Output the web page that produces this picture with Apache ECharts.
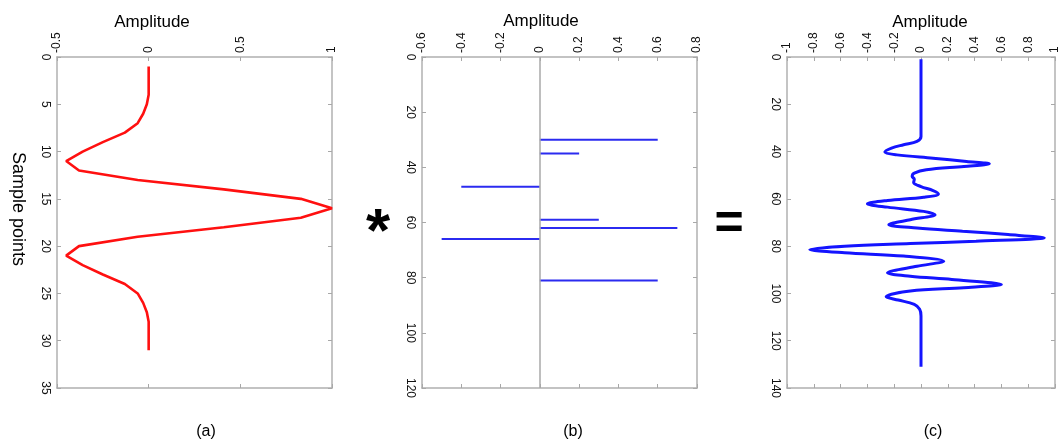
<!DOCTYPE html>
<html>
<head>
<meta charset="utf-8">
<script src="https://cdn.jsdelivr.net/npm/echarts@6/dist/echarts.min.js"></script>
<style>
  html, body { margin: 0; padding: 0; background: #fff; }
  #chart { width: 1061px; height: 445px; }
</style>
</head>
<body>
<div id="chart"></div>
<script>
// (a) wavelet
var waveSamples = [1,2,3,4,5,6,7,8,9,10,11,12,13,14,15,16,17,18,19,20,21,22,23,24,25,26,27,28,29,30,31];
var waveAmps = [0,0,0,0,-0.01,-0.03,-0.06,-0.13,-0.25,-0.36,-0.45,-0.38,-0.06,0.41,0.83,1.0,0.83,0.41,-0.06,-0.38,-0.45,-0.36,-0.25,-0.13,-0.06,-0.03,-0.01,0,0,0,0];

// (b) reflectivity spikes
var spikeSamples = [30, 35, 47, 59, 62, 66, 81];
var spikeAmps = [0.6, 0.2, -0.4, 0.3, 0.7, -0.5, 0.6];

// (c) synthetic trace
var traceSamples = [1, 20, 33.6, 35.7, 37.1, 38.5, 40.2, 41.4, 42.8, 44.2, 45.2, 46.3, 47.7, 49.1, 50.5, 51.7, 53.1, 54.8, 56.5, 57.9, 59.3, 60.7, 62.1, 63.5, 65.3, 66.7, 68.8, 70.9, 72.3, 73.7, 75.1, 76.5, 77.9, 78.9, 80.0, 81.4, 82.8, 84.2, 86.4, 88.5, 91.3, 92.7, 94.1, 96.2, 97.6, 99.0, 101.4, 102.8, 104.6, 106.7, 109.5, 120, 131];
var traceAmps = [0, 0, 0, -0.03, -0.13, -0.22, -0.27, -0.18, 0.09, 0.34, 0.51, 0.32, 0.04, -0.05, -0.066, -0.05, -0.055, 0, 0.09, 0.13, 0.02, -0.25, -0.40, -0.25, 0.02, 0.105, -0.08, -0.24, -0.03, 0.31, 0.65, 0.92, 0.41, -0.08, -0.57, -0.83, -0.57, -0.13, 0.17, -0.03, -0.25, -0.08, 0.23, 0.60, 0.32, -0.08, -0.26, -0.17, -0.05, -0.01, 0, 0, 0];

var ampRanges = [[-0.5, 1, 0.5], [-0.6, 0.8, 0.2], [-1, 1, 0.2]];
var sampleRanges = [[0, 35, 5], [0, 120, 20], [0, 140, 20]];
var panelLabels = ['(a)', '(b)', '(c)'];

function pairs(xs, ys) {
  return xs.map(function (s, i) { return [ys[i], s]; });
}

var boxLine = { color: '#b0b0b0', width: 1.5 };
var tickLine = { color: '#a8a8a8', width: 1 };
var labelFont = { color: '#111', fontFamily: 'Liberation Sans, Arial', fontSize: 12 };

var grids = [
  { left: 57, top: 57, width: 275, height: 331 },
  { left: 422, top: 57, width: 275, height: 331 },
  { left: 787, top: 57, width: 274, height: 331 }
];

var xAxes = [], yAxes = [];
grids.forEach(function (g, i) {
  [true, false].forEach(function (main) {
    xAxes.push({
      type: 'value', gridIndex: i, position: main ? 'top' : 'bottom',
      min: ampRanges[i][0], max: ampRanges[i][1], interval: ampRanges[i][2],
      axisLine: { show: true, onZero: false, lineStyle: boxLine },
      axisTick: { show: true, inside: true, length: 4, lineStyle: tickLine },
      axisLabel: Object.assign({ show: main, rotate: -90, margin: 4, showMinLabel: true, showMaxLabel: true }, labelFont),
      splitLine: { show: false }
    });
    yAxes.push({
      type: 'value', gridIndex: i, position: main ? 'left' : 'right', inverse: true,
      min: sampleRanges[i][0], max: sampleRanges[i][1], interval: sampleRanges[i][2],
      axisLine: { show: true, onZero: false, lineStyle: boxLine },
      axisTick: { show: true, inside: true, length: 4, lineStyle: tickLine },
      axisLabel: Object.assign({ show: main, rotate: -90, margin: 6, showMinLabel: true, showMaxLabel: true }, labelFont),
      splitLine: { show: false }
    });
  });
});

var textFont = 'Liberation Sans, Arial';
var graphics = [
  { type: 'text', x: 152, y: 22, style: { text: 'Amplitude', font: '17px ' + textFont, fill: '#000', align: 'center', verticalAlign: 'middle' } },
  { type: 'text', x: 541, y: 21, style: { text: 'Amplitude', font: '17px ' + textFont, fill: '#000', align: 'center', verticalAlign: 'middle' } },
  { type: 'text', x: 930, y: 22, style: { text: 'Amplitude', font: '17px ' + textFont, fill: '#000', align: 'center', verticalAlign: 'middle' } },
  { type: 'text', x: 18, y: 209, rotation: -Math.PI / 2, style: { text: 'Sample points', font: '18px ' + textFont, fill: '#000', align: 'center', verticalAlign: 'middle' } },
  { type: 'text', x: 378, y: 234, style: { text: '*', font: 'bold 62px ' + textFont, fill: '#000', align: 'center', verticalAlign: 'middle' } },
  { type: 'text', x: 729, y: 225, style: { text: '=', font: 'bold 50px ' + textFont, fill: '#000', align: 'center', verticalAlign: 'middle' } }
];
var labelX = [206, 573, 933];
panelLabels.forEach(function (t, i) {
  graphics.push({ type: 'text', x: labelX[i], y: 432, style: { text: t, font: '16px ' + textFont, fill: '#000', align: 'center', verticalAlign: 'middle' } });
});

var option = {
  backgroundColor: '#fff',
  animation: false,
  grid: grids,
  xAxis: xAxes,
  yAxis: yAxes,
  graphic: graphics,
  series: [
    {
      type: 'line', xAxisIndex: 0, yAxisIndex: 0,
      data: pairs(waveSamples, waveAmps),
      showSymbol: false,
      lineStyle: { color: '#ff1010', width: 2.6 }
    },
    {
      type: 'custom', xAxisIndex: 2, yAxisIndex: 2,
      data: pairs(spikeSamples, spikeAmps),
      encode: { x: 0, y: 1 },
      renderItem: function (params, api) {
        var p0 = api.coord([0, api.value(1)]);
        var p1 = api.coord([api.value(0), api.value(1)]);
        return {
          type: 'line',
          shape: { x1: p0[0], y1: p0[1], x2: p1[0], y2: p1[1] },
          style: { stroke: '#2b2bf0', lineWidth: 2 }
        };
      },
      markLine: {
        silent: true, symbol: 'none', label: { show: false },
        lineStyle: { color: '#a8a8a8', width: 1.5, type: 'solid' },
        data: [{ xAxis: 0 }]
      }
    },
    {
      type: 'line', xAxisIndex: 4, yAxisIndex: 4,
      data: pairs(traceSamples, traceAmps),
      showSymbol: false,
      smooth: 0.35,
      lineStyle: { color: '#1414ff', width: 3 }
    }
  ]
};

var chart = echarts.init(document.getElementById('chart'));
chart.setOption(option);
</script>
</body>
</html>
